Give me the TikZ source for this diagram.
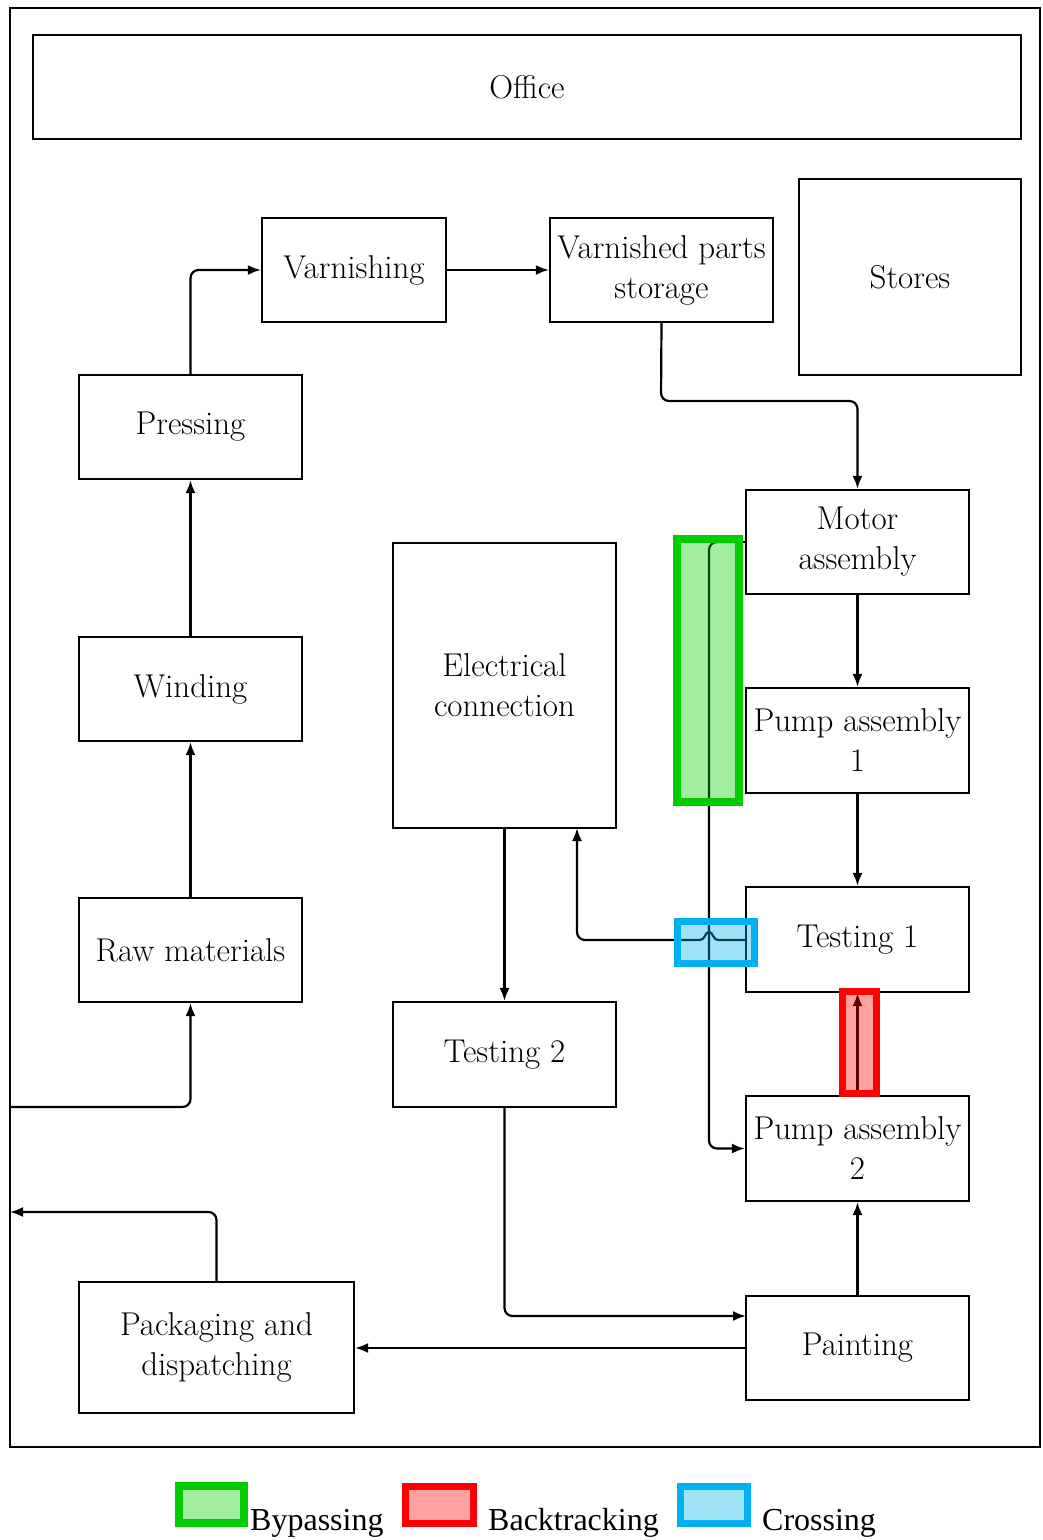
\documentclass[tikz,border=0pt]{standalone}
\usepackage{fontspec}
\newfontfamily\legendfont{Liberation Serif}
\usetikzlibrary{arrows.meta}
\begin{document}
\begin{tikzpicture}[x=1pt,y=-1pt,
  box/.style={draw, line width=2.2pt, inner sep=0pt, align=center,
    font=\fontsize{33}{40}\selectfont},
  conn/.style={line width=2.2pt, rounded corners=8pt,
    -{Latex[length=13pt,width=10pt]}},
  plain/.style={line width=2.2pt},
  mark bypass/.style={draw={rgb,255:red,0;green,204;blue,0}, line width=8pt,
    fill={rgb,255:red,0;green,204;blue,0}, fill opacity=0.36},
  mark back/.style={draw={rgb,255:red,255;green,0;blue,0}, line width=7pt,
    fill={rgb,255:red,255;green,0;blue,0}, fill opacity=0.37},
  mark cross/.style={draw={rgb,255:red,0;green,176;blue,240}, line width=7pt,
    fill={rgb,255:red,0;green,176;blue,240}, fill opacity=0.37},
  legendtext/.style={anchor=base west, inner sep=0pt,
    font=\legendfont\fontsize{32}{36}\selectfont}
]
\useasboundingbox (0,0) rectangle (1042,1540);

% outer plant boundary
\node[draw, line width=2.2pt, minimum width=1030pt, minimum height=1439pt,
  inner sep=0pt] (plant) at (525,727.5) {};

% departments
\node[box, minimum width=988pt, minimum height=104pt] (office) at (527,87) {Office};
\node[box, minimum width=184pt, minimum height=104pt] (varn) at (354,270) {Varnishing};
\node[box, minimum width=223pt, minimum height=104pt] (stor) at (661.5,270) {Varnished parts\\storage};
\node[box, minimum width=222pt, minimum height=196pt] (stores) at (910,277) {Stores};
\node[box, minimum width=223pt, minimum height=104pt] (press) at (190.5,427) {Pressing};
\node[box, minimum width=223pt, minimum height=104pt] (motor) at (857.5,542) {Motor\\assembly};
\node[box, minimum width=223pt, minimum height=285pt] (elec) at (504.5,685.5) {Electrical\\connection};
\node[box, minimum width=223pt, minimum height=104pt] (wind) at (190.5,689) {Winding};
\node[box, minimum width=223pt, minimum height=105pt] (pumpA) at (857.5,740.5) {Pump assembly\\1};
\node[box, minimum width=223pt, minimum height=105pt] (testA) at (857.5,939.5) {Testing 1};
\node[box, minimum width=223pt, minimum height=104pt] (raw) at (190.5,950) {Raw materials};
\node[box, minimum width=223pt, minimum height=105pt] (testB) at (504.5,1054.5) {Testing 2};
\node[box, minimum width=223pt, minimum height=105pt] (pumpB) at (857.5,1148.5) {Pump assembly\\2};
\node[box, minimum width=275pt, minimum height=131pt] (pack) at (216.5,1347.5) {Packaging and\\dispatching};
\node[box, minimum width=223pt, minimum height=104pt] (paint) at (857.5,1348) {Painting};

% bend points and free ends
\coordinate (storTurn) at (661,401);
\coordinate (byLine) at (709,800);
\coordinate (elecIn) at (577,828);
\coordinate (paintIn) at (746,1316);
\coordinate (exitPt) at (10,1212);
\coordinate (entryPt) at (10,1107);
\coordinate (hopR) at (718,940);
\coordinate (hopL) at (700,940);

% material flow
\draw[conn] (entryPt) -| (raw.south);
\draw[conn] (raw.north) -- (wind.south);
\draw[conn] (wind.north) -- (press.south);
\draw[conn] (press.north) |- (varn.west);
\draw[conn] (varn.east) -- (stor.west);
\draw[conn] (stor.south) -- (storTurn) -| (motor.north);
\draw[conn] (motor.south) -- (pumpA.north);
\draw[conn] (pumpA.south) -- (testA.north);
\draw[conn] (motor.west) -| (byLine) |- (pumpB.west);
\draw[conn] (pumpB.north) -- (testA.south);
% line hop where the return to electrical connection crosses the bypass
\draw[plain] (testA.west |- hopR) -- (hopR)
  .. controls (713,940) and (713,932) .. (709,932)
  .. controls (705,932) and (705,940) .. (hopL);
\draw[conn] (hopL) -| (elecIn);
\draw[conn] (elec.south) -- (testB.north);
\draw[conn] (testB.south) |- (paintIn);
\draw[conn] (paint.north) -- (pumpB.south);
\draw[conn] (paint.west) -- (pack.east |- paint.west);
\draw[conn] (pack.north) |- (exitPt);

% flow problem highlights
\draw[mark bypass] (677,539) rectangle (739,802);
\draw[mark cross] (677,921) rectangle (754,963);
\draw[mark back] (842,991) rectangle (876,1093);

% legend
\draw[mark bypass] (179,1486) rectangle (244,1523);
\node[legendtext] (lgA) at (250,1530) {Bypassing};
\draw[mark back] (405,1486) rectangle (473,1523);
\node[legendtext] (lgB) at (488,1530) {Backtracking};
\draw[mark cross] (680,1486) rectangle (747,1523);
\node[legendtext] (lgC) at (762,1530) {Crossing};
\end{tikzpicture}
\end{document}
